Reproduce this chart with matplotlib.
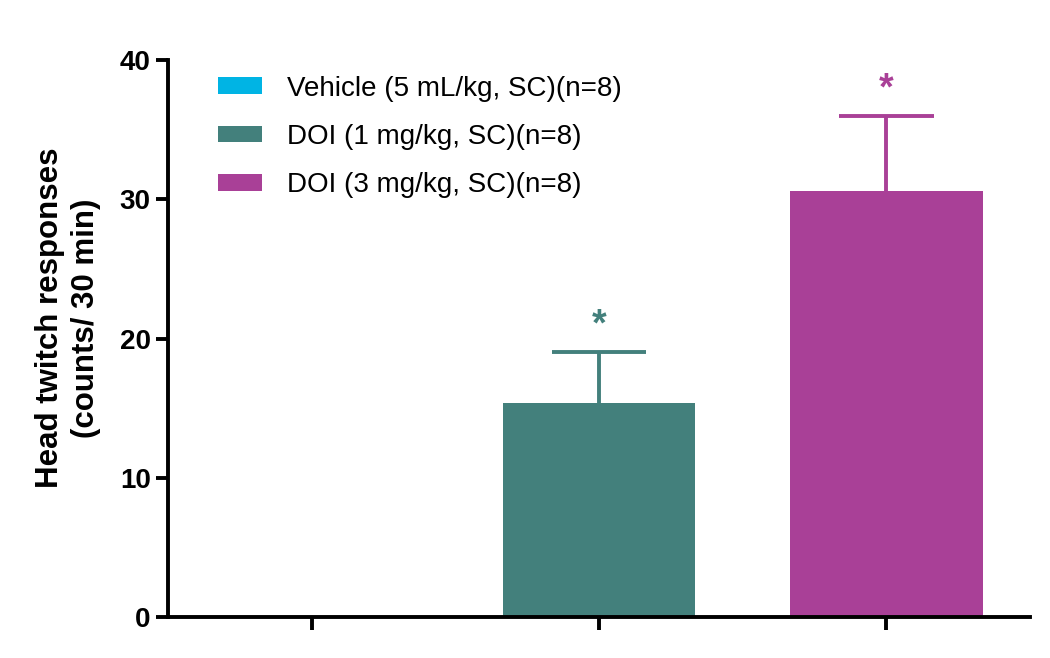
import numpy as np
import matplotlib.pyplot as plt

plt.rcParams['font.family'] = ['Liberation Sans', 'DejaVu Sans']

groups = ['Vehicle (5 mL/kg, SC)(n=8)', 'DOI (1 mg/kg, SC)(n=8)', 'DOI (3 mg/kg, SC)(n=8)']
means = [0.0, 15.4, 30.6]
sem = [0.0, 3.6, 5.4]
signif = ['', '*', '*']
colors = ['#00B4E4', '#43807C', '#A94097']

fig = plt.figure(figsize=(10.5, 6.58), dpi=100)
ax = fig.add_axes([0.16, 0.0623, 0.821, 0.8465])

x = np.arange(len(groups))
cap = 0.165
for i in range(len(groups)):
    ax.bar(x[i], means[i], width=0.67, color=colors[i], label=groups[i], zorder=2)
    if sem[i] > 0:
        top = means[i] + sem[i]
        ax.vlines(x[i], means[i], top, colors=colors[i], lw=2.8, zorder=1)
        ax.hlines(top, x[i] - cap, x[i] + cap, colors=colors[i], lw=2.8, zorder=1)
    if signif[i]:
        ax.text(x[i], means[i] + sem[i] + 1.9, signif[i], ha='center', va='center',
                fontsize=27, fontweight='bold', color=colors[i])

ax.set_xlim(-0.5, 2.5)
ax.set_ylim(0, 40)
ax.set_yticks([0, 10, 20, 30, 40])
ax.set_xticks(x)
ax.set_xticklabels([])
for s in ['top', 'right']:
    ax.spines[s].set_visible(False)
for s in ['left', 'bottom']:
    ax.spines[s].set_linewidth(2.8)
ax.tick_params(axis='both', width=2.8, length=9, labelsize=20)
for lab in ax.get_yticklabels():
    lab.set_fontweight('bold')
ax.set_ylabel('Head twitch responses\n(counts/ 30 min)', fontsize=22.5, fontweight='bold',
              linespacing=1.25)
ax.yaxis.set_label_coords(-0.078, 0.537)

ax.legend(loc='upper left', bbox_to_anchor=(0.029, 1.017), frameon=False, fontsize=20,
          handlelength=1.6, handleheight=0.55, handletextpad=0.9, labelspacing=0.8)

fig.savefig('out.png', dpi=100)
